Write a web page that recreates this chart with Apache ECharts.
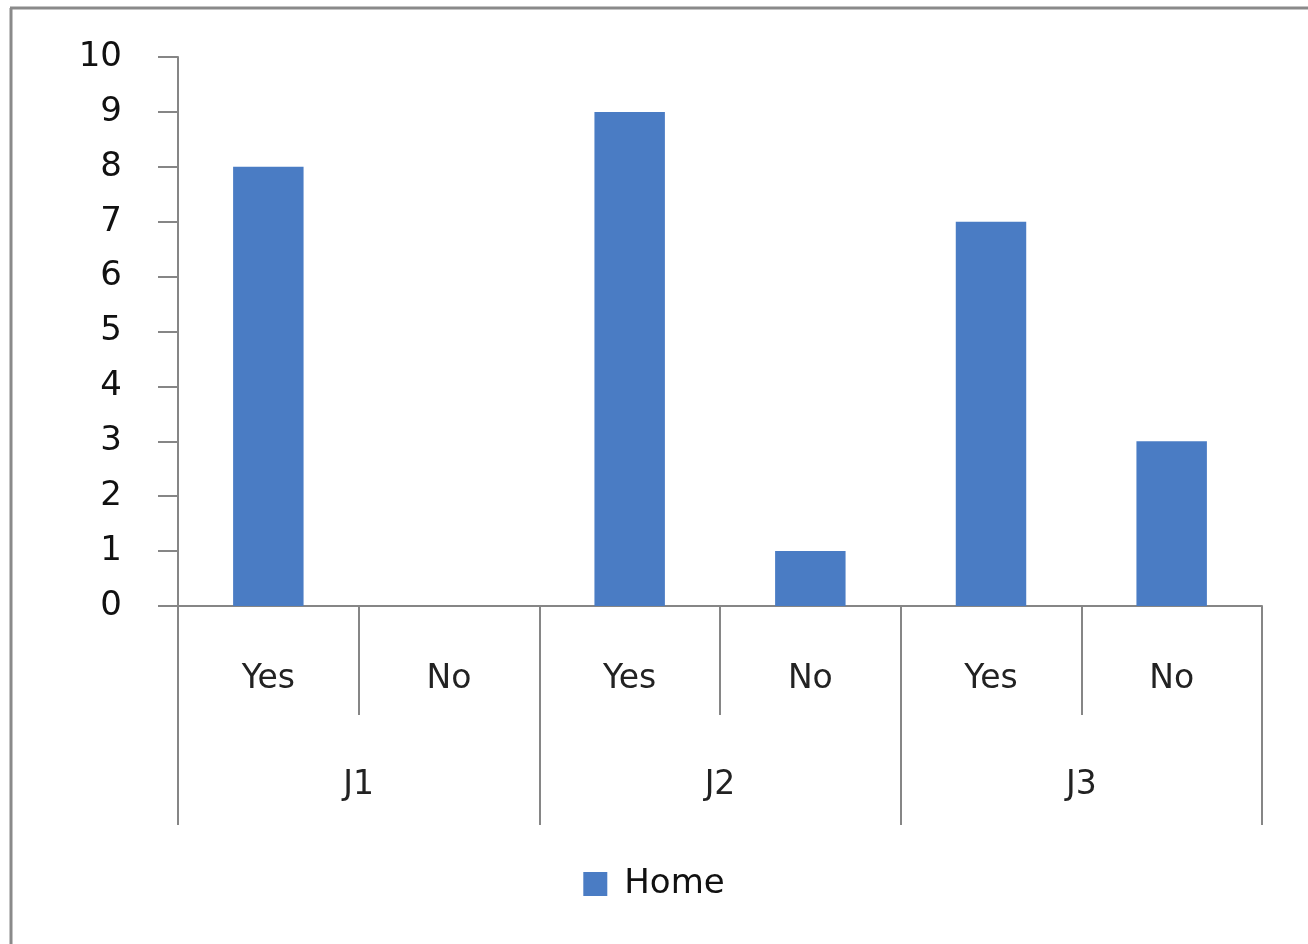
<!DOCTYPE html>
<html>
<head>
<meta charset="utf-8">
<script src="https://cdn.jsdelivr.net/npm/echarts@6/dist/echarts.min.js"></script>
<style>
html,body{margin:0;padding:0;background:#fff;}
#c{width:1308px;height:944px;}
</style>
</head>
<body>
<div id="c"></div>
<script>
const categories = ["Yes", "No", "Yes", "No", "Yes", "No"];
const groups = ["J1", "J2", "J3"];
const homeValues = [8, 0, 9, 1, 7, 3];
const seriesName = "Home";
const yTicks = { min: 0, max: 10, interval: 1 };

const chart = echarts.init(document.getElementById('c'));
const axisGray = '#868686';
const font = 'DejaVu Sans';
chart.setOption({
  backgroundColor: '#ffffff',
  animation: false,
  graphic: [
    { type: 'line', shape: { x1: 11, y1: 8, x2: 11, y2: 944 }, style: { stroke: '#8a8a8a', lineWidth: 3 } },
    { type: 'line', shape: { x1: 10, y1: 8, x2: 1308, y2: 8 }, style: { stroke: '#8a8a8a', lineWidth: 3 } }
  ],
  grid: { left: 178, right: 46, top: 57, bottom: 338 },
  legend: {
    data: [seriesName],
    top: 862,
    left: 'center',
    icon: 'rect',
    itemWidth: 24,
    itemHeight: 24,
    itemGap: 10,
    textStyle: { fontFamily: font, fontSize: 34, color: '#111', padding: [0, 0, 0, 12] }
  },
  xAxis: [
    {
      type: 'category',
      data: categories,
      position: 'bottom',
      axisLine: { lineStyle: { color: axisGray, width: 2 } },
      axisTick: { show: true, length: 109, alignWithLabel: false, lineStyle: { color: axisGray, width: 2 } },
      axisLabel: { margin: 57, fontFamily: font, fontSize: 33, color: '#222' }
    },
    {
      type: 'category',
      data: groups,
      position: 'bottom',
      axisLine: { show: false },
      axisTick: { show: true, length: 219, alignWithLabel: false, lineStyle: { color: axisGray, width: 2 } },
      axisLabel: { margin: 163, fontFamily: font, fontSize: 33, color: '#222' }
    }
  ],
  yAxis: {
    type: 'value',
    min: yTicks.min,
    max: yTicks.max,
    interval: yTicks.interval,
    axisLine: { show: true, lineStyle: { color: axisGray, width: 2 } },
    axisTick: { show: true, length: 20, lineStyle: { color: axisGray, width: 2 } },
    splitLine: { show: false },
    axisLabel: { margin: 56, fontFamily: font, fontSize: 34, color: '#111' }
  },
  series: [{
    name: seriesName,
    type: 'bar',
    xAxisIndex: 0,
    data: homeValues,
    barWidth: '39%',
    itemStyle: { color: '#4a7cc4' }
  }]
});
</script>
</body>
</html>
